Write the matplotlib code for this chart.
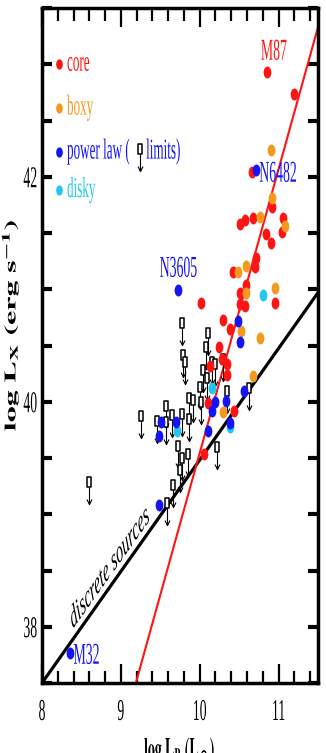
import numpy as np
import matplotlib
matplotlib.use('Agg')
import matplotlib.pyplot as plt
from matplotlib.path import Path
from matplotlib.patheffects import AbstractPathEffect
from matplotlib.transforms import Affine2D

# log L_B (L_sun) and log L_X (erg/s)
core_lb = [10.85, 11.19, 10.66, 10.51, 10.58, 10.67, 10.92, 11.06, 11.04, 10.84, 10.91,
           10.71, 10.70, 10.42, 10.51, 10.58, 10.59, 10.95, 10.01, 10.30, 10.38, 10.51,
           10.25, 10.13, 10.28, 10.34, 10.35, 10.11, 10.43, 10.06]
core_lx = [42.93, 42.74, 42.04, 41.58, 41.62, 41.63, 41.73, 41.63, 41.51, 41.49, 41.41,
           41.28, 41.20, 41.15, 40.97, 40.85, 41.04, 40.88, 40.88, 40.73, 40.65, 40.87,
           40.49, 40.32, 40.38, 40.34, 40.24, 39.99, 39.92, 39.54]
boxy_lb = [10.91, 10.92, 10.76, 11.08, 10.49, 10.59, 10.59, 10.96, 10.52, 10.76, 10.68, 10.29]
boxy_lx = [42.24, 41.81, 41.64, 41.56, 41.15, 41.21, 40.97, 41.01, 40.63, 40.57, 40.23, 39.91]
plaw_lb = [10.72, 9.73, 10.49, 10.51, 10.56, 10.19, 10.15, 10.33, 10.39, 10.10,
           9.51, 9.48, 9.70, 9.48, 8.35]
plaw_lx = [42.06, 40.99, 40.72, 40.53, 40.10, 40.00, 39.92, 40.01, 39.81, 39.74,
           39.82, 39.70, 39.82, 39.08, 37.77]
disky_lb = [10.80, 10.16, 10.39, 9.71]
disky_lx = [40.95, 40.12, 39.78, 39.74]
# upper limits
lim_lb = [9.77, 10.10, 10.08, 9.785, 9.81, 10.04, 10.16, 10.20, 10.29, 10.09, 10.00,
          10.01, 9.87, 9.92, 10.35, 10.62, 9.25, 9.46, 9.57, 9.57, 9.65, 9.77, 9.86,
          9.72, 9.78, 9.85, 9.75, 9.66, 9.58, 10.22, 8.59]
lim_lx = [40.70, 40.61, 40.49, 40.42, 40.35, 40.28, 40.35, 40.34, 40.38, 40.21, 40.13,
          40.00, 40.03, 40.02, 40.10, 40.12, 39.87, 39.83, 39.96, 39.82, 39.88, 39.89, 39.85,
          39.61, 39.50, 39.54, 39.39, 39.26, 39.10, 39.60, 39.29]

# lines
fit_lb = [9.19, 11.5]
fit_lx = [37.5, 43.33]
disc_lb = [8.0, 11.5]
disc_lx = [37.5, 40.97]

names = ['M87', 'N6482', 'N3605', 'M32']
name_lb = [10.94, 11.23, 9.73, 8.40]
name_lx = [43.12, 42.035, 41.19, 37.75]

RED = '#ff1414'
ORANGE = '#f39a1e'
BLUE = '#1414f5'
CYAN = '#22c6ee'


class Stretch(AbstractPathEffect):
    # draw text taller (about its own middle), like the squashed original
    def __init__(self, sy=2.2):
        super().__init__()
        self.sy = sy

    def draw_path(self, renderer, gc, tpath, affine, rgbFace=None):
        v = affine.transform(tpath.vertices)
        if len(v) == 0:
            return
        cy = (v[:, 1].min() + v[:, 1].max()) / 2
        t = affine + Affine2D().translate(0, -cy).scale(1, self.sy).translate(0, cy)
        renderer.draw_path(gc, tpath, t, rgbFace)


plt.rcParams['font.family'] = ['Liberation Serif', 'DejaVu Serif']
plt.rcParams['mathtext.fontset'] = 'stix'

fig = plt.figure(figsize=(3.26, 7.53), dpi=100)
ax = fig.add_axes([42 / 326, 70 / 753, 276 / 326, 675 / 753])

ell = Affine2D().scale(0.65, 1).transform_path(Path.unit_circle())
dot = Path(ell.vertices, ell.codes)
box = Path([(-2.3, -5), (2.3, -5), (2.3, 5), (-2.3, 5), (-2.3, -5)],
           [Path.MOVETO, Path.LINETO, Path.LINETO, Path.LINETO, Path.CLOSEPOLY])
arrow = Path([(0, -5), (0, -22), (-2.5, -17), (0, -22), (2.5, -17)],
             [Path.MOVETO, Path.LINETO, Path.MOVETO, Path.LINETO, Path.LINETO])

ax.plot(disc_lb, disc_lx, color='k', lw=2.3, solid_capstyle='butt')
ax.plot(fit_lb, fit_lx, color=RED, lw=1.5)

ax.plot(lim_lb, lim_lx, ls='none', marker=arrow, ms=31.7, mfc='none', mec='k', mew=0.8)
ax.plot(lim_lb, lim_lx, ls='none', marker=box, ms=7.2, mfc='white', mec='k', mew=1.1)

for xs, ys, c in [(core_lb, core_lx, RED), (boxy_lb, boxy_lx, ORANGE),
                  (disky_lb, disky_lx, CYAN), (plaw_lb, plaw_lx, BLUE)]:
    ax.plot(xs, ys, ls='none', marker=dot, ms=8.6, mfc=c, mec='none')

# legend, hand placed
leg = [('core', RED, 0.917), ('boxy', ORANGE, 0.852), ('power law (     limits)', BLUE, 0.787),
       ('disky', CYAN, 0.730)]
for lab, c, yy in leg:
    ax.plot([0.0616], [yy], ls='none', marker=dot, ms=7.4, mfc=c, mec='none',
            transform=ax.transAxes)
    ax.text(0.0906, yy, lab, color=c, fontsize=9.45, ha='left', va='center',
            transform=ax.transAxes, path_effects=[Stretch()])
ax.plot([0.355], [0.791], ls='none', marker=arrow, ms=31.7, mfc='none', mec='k', mew=0.8,
        transform=ax.transAxes)
ax.plot([0.355], [0.791], ls='none', marker=box, ms=7.2, mfc='white', mec='k', mew=1.1,
        transform=ax.transAxes)

# galaxy names
name_col = [RED, BLUE, BLUE, BLUE]
name_ha = ['center', 'right', 'center', 'left']
for n, x, y, c, ha in zip(names, name_lb, name_lx, name_col, name_ha):
    ax.text(x, y, n, color=c, fontsize=9.9, ha=ha, va='center', path_effects=[Stretch()])

ax.text(8.86, 38.52, 'discrete sources', fontsize=10.35, style='italic', rotation=32.7,
        ha='center', va='center', path_effects=[Stretch()])

ax.set_xlim(8, 11.5)
ax.set_ylim(37.5, 43.5)
ax.set_xticks([8, 9, 10, 11])
ax.set_xticks(np.arange(8, 11.5, 0.2), minor=True)
ax.set_yticks([38, 40, 42])
ax.set_yticks(np.arange(37.5, 43.6, 0.5), minor=True)
ax.tick_params(axis='x', which='major', direction='in', length=14, width=1.6,
               top=True, labelsize=9.9, pad=15.5)
ax.tick_params(axis='x', which='minor', direction='in', length=9, width=1.6, top=True)
ax.tick_params(axis='y', which='both', direction='in', length=7, width=3,
               right=True, labelsize=9.9, pad=3.5)
for t in ax.get_xticklabels() + ax.get_yticklabels():
    t.set_path_effects([Stretch()])
for s in ax.spines.values():
    s.set_linewidth(2.5)

fig.text(10 / 326, 1 - 325 / 753, r'$\mathbf{log\ L_X\ (erg\ s^{-1})}$', fontsize=11.5,
         rotation=90, ha='center', va='center', path_effects=[Stretch(2.0)])
fig.text(180 / 326, 1 - 742 / 753, r'$\mathbf{log\ L_B\ (L_\odot)}$', fontsize=9.9,
         ha='center', va='top', path_effects=[Stretch()])

fig.savefig('out.png', dpi=100)
